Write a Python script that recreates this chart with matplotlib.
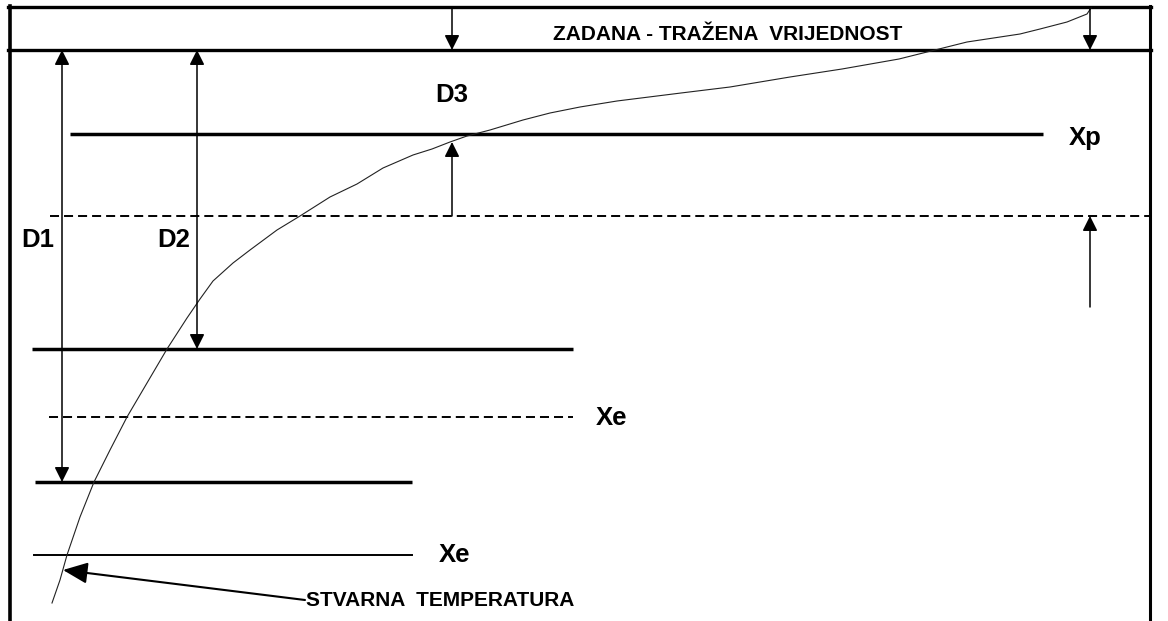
import matplotlib.pyplot as plt

plt.rcParams['lines.scale_dashes'] = False

# stvarna temperatura (pixel coords, y prema dolje)
curve_x = [52, 60, 67, 80, 94, 110, 127, 147, 167, 187, 200, 213, 233, 250, 277, 300, 330,
           357, 383, 413, 432, 450, 467, 490, 523, 550, 580, 617, 681, 730, 790, 842, 899,
           935, 967, 1020, 1040, 1067, 1087, 1091]
curve_y = [603, 580, 555, 517, 482, 450, 417, 383, 349, 318, 299, 281, 263, 250, 230, 216, 197,
           184, 168, 155, 149, 142, 136, 130, 120, 113, 107, 101, 93, 87, 77, 69, 59,
           50, 42, 34, 29, 22, 14, 8]

# razine: (y, x0, x1, stil)
levels_y = [134, 216, 349, 417, 482, 555]
levels_x0 = [70, 50, 32, 49, 35, 34]
levels_x1 = [1043, 1150, 573, 573, 412, 412]
levels_style = ['thick', 'dash', 'thick', 'dash', 'thick', 'thin']

labels = ['D1', 'D2', 'D3', 'Xp', 'Xe', 'Xe']
labels_x = [38, 174, 452, 1085, 612, 455]
labels_y = [240, 240, 95, 138, 418, 555]

top_text = 'ZADANA - TRAŽENA  VRIJEDNOST'
bottom_text = 'STVARNA  TEMPERATURA'

fig = plt.figure(figsize=(11.68, 6.21), dpi=100)
ax = fig.add_axes([0, 0, 1, 1])
ax.set_xlim(0, 1168)
ax.set_ylim(621, 0)
ax.axis('off')

# okvir
ax.plot([8, 1151], [7, 7], color='black', lw=2.4)
ax.plot([8, 1151], [50, 50], color='black', lw=2.4)
ax.plot([10, 10], [6, 621], color='black', lw=2.6)
ax.plot([1150, 1150], [6, 621], color='black', lw=2.2)

for y, x0, x1, st in zip(levels_y, levels_x0, levels_x1, levels_style):
    if st == 'thick':
        ax.plot([x0, x1], [y, y], color='black', lw=2.5, solid_capstyle='butt')
    elif st == 'dash':
        ax.plot([x0, x1], [y, y], color='black', lw=1.4, dashes=(6.5, 3.6))
    else:
        ax.plot([x0, x1], [y, y], color='black', lw=1.4)

ax.plot(curve_x, curve_y, color='#222222', lw=0.8)

def arrow(tip, tail, style='-|>', lw=1.1, hl=0.9, hw=0.45):
    ax.annotate('', xy=tip, xytext=tail,
                arrowprops=dict(arrowstyle=f'{style},head_length={hl},head_width={hw}',
                                lw=lw, color='black', mutation_scale=10,
                                shrinkA=0, shrinkB=0))

arrow((452, 50), (452, 7))
arrow((1090, 50), (1090, 8))
arrow((62, 50), (62, 482), style='<|-|>')
arrow((197, 50), (197, 349), style='<|-|>')
arrow((452, 142), (452, 216))
arrow((1090, 216), (1090, 307))
arrow((63, 570), (305, 600), lw=1.5, hl=1.5, hw=0.65)

for s, x, y in zip(labels, labels_x, labels_y):
    ax.text(x, y, s, fontsize=18.5, fontweight='bold', family='Liberation Sans',
            ha='center', va='center')

ax.text(728, 35, top_text, fontsize=15, fontweight='bold', family='Liberation Sans',
        ha='center', va='center')
ax.text(306, 601, bottom_text, fontsize=15, fontweight='bold', family='Liberation Sans',
        ha='left', va='center')

fig.savefig('out.png', dpi=100)
